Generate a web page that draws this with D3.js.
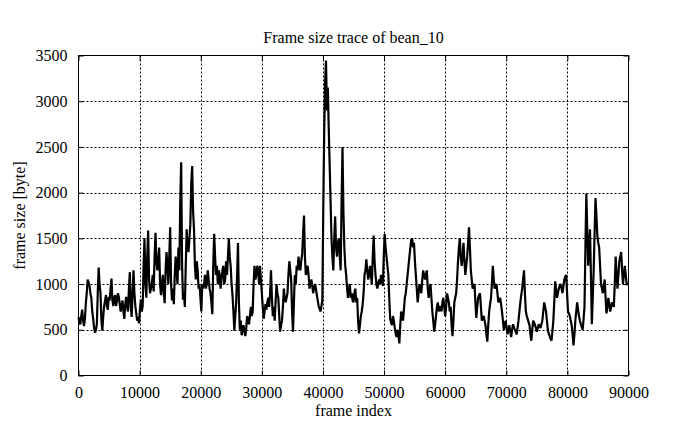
<!DOCTYPE html>
<html>
<head>
<meta charset="utf-8">
<script src="https://cdn.jsdelivr.net/npm/d3@7"></script>
<style>
html,body{margin:0;padding:0;background:#fff;}
svg{display:block;}
text{font-family:"Liberation Serif","Times New Roman",serif;fill:#000;}
</style>
</head>
<body>
<svg id="chart" width="695" height="429"></svg>
<script>
// ---- data ----
const titleText = "Frame size trace of bean_10";
const xLabel = "frame index";
const yLabel = "frame size [byte]";
const frameStep = 150; // frames between samples
const frameSizes = [
  640,580,560,650,720,600,540,620,790,900,1050,1020,980,900,850,700,620,520,470,500,
  560,900,1180,1000,900,600,490,650,760,820,880,760,720,860,820,950,1060,820,760,850,
  880,760,820,900,860,780,700,760,820,700,620,780,860,760,700,950,1130,760,640,900,
  1150,900,760,680,600,640,570,720,830,700,760,1200,1500,1000,850,1300,1585,1050,900,950,
  1000,1100,920,1300,1560,1250,1150,1250,1400,1000,880,1000,1100,900,790,1150,1350,1200,1000,1300,
  1620,1000,820,950,780,1100,1300,1150,1000,1400,1150,1900,2333,1200,830,900,750,1200,1600,1400,
  1350,1500,1650,2100,2290,1800,1600,1200,1050,1250,1150,950,1000,850,700,1000,950,1000,1100,950,
  1000,1150,1050,950,900,800,670,1200,1550,1300,1100,1200,1000,1150,1100,950,1050,1150,1200,1000,
  1050,1250,1100,1300,1500,1300,1200,1000,880,700,490,650,800,1100,1450,800,500,600,440,480,
  550,500,430,520,650,600,560,650,750,650,700,1000,1200,1050,1100,1200,1150,1000,1200,1050,
  900,750,620,700,780,720,800,850,750,900,1150,850,650,750,600,800,1000,900,850,650,
  480,550,600,750,950,850,800,850,900,1100,1250,1150,1050,700,480,800,1100,1000,1200,1150,
  1300,1200,1150,1250,1330,1550,1750,1300,1100,1150,1200,1100,950,1000,1050,980,900,950,1000,950,
  880,820,760,730,700,760,820,1800,2650,3200,3445,2900,3150,2700,2300,1900,1500,1300,1150,1500,
  1740,1400,1300,1450,1500,1300,1150,1900,2500,1800,1400,1200,1100,950,850,950,1000,850,900,820,
  800,900,950,800,850,600,460,550,650,700,780,900,1100,1150,1270,1150,1050,1100,1200,1100,
  1000,1300,1530,1250,1100,1000,950,1000,1050,1000,1100,1050,980,1300,1550,1400,1300,1200,1100,850,
  620,580,550,650,600,520,460,420,500,450,350,550,700,650,600,720,850,900,1000,1100,
  1200,1300,1400,1480,1500,1400,1450,1250,1100,950,800,900,1000,950,900,1050,1150,1100,1050,1100,
  1150,950,850,950,1000,850,700,600,480,550,650,750,800,700,750,750,700,800,850,750,
  650,750,900,850,800,700,750,550,430,600,800,850,900,1050,1250,1400,1500,1300,1200,1300,
  1450,1250,1100,1200,1300,1450,1620,1400,1150,1050,950,980,1000,800,630,750,850,880,900,750,
  600,630,650,600,550,450,370,550,700,780,850,1000,1200,1050,950,980,1000,900,800,820,
  850,780,700,600,500,550,600,520,450,500,550,480,420,500,560,530,500,480,450,520,
  600,700,800,880,950,1050,1150,900,700,650,620,580,550,450,380,500,600,580,550,520,
  480,520,560,540,520,560,600,700,800,750,700,600,500,460,430,400,380,480,600,800,
  1030,950,850,900,950,980,1000,950,900,980,1050,1080,1100,900,700,680,650,600,550,450,
  330,450,600,700,800,720,650,600,560,530,500,620,750,1400,1990,1600,1200,1400,1600,1100,
  560,850,1150,1550,1940,1750,1530,1450,1400,1200,1000,950,900,980,1050,850,680,760,850,780,
  700,750,800,780,750,1000,1300,1100,950,1100,1250,1300,1350,1150,1000,1100,1200,1100,1000,1000,
  1000
];
const xTicks = [0, 10000, 20000, 30000, 40000, 50000, 60000, 70000, 80000, 90000];
const yTicks = [0, 500, 1000, 1500, 2000, 2500, 3000, 3500];

// ---- layout ----
const svg = d3.select("#chart");
const L = 78.5, R = 628.5, T = 55.5, B = 375.5;
const x = d3.scaleLinear().domain([0, 90000]).range([L, R]);
const y = d3.scaleLinear().domain([0, 3500]).range([B, T]);

// grid
const grid = svg.append("g");
grid.selectAll(".gx").data(xTicks.slice(1, -1)).enter().append("line")
  .attr("x1", d => Math.round(x(d)) + 0.5).attr("x2", d => Math.round(x(d)) + 0.5)
  .attr("y1", T).attr("y2", B)
  .attr("stroke", "#000").attr("stroke-width", 1).attr("stroke-dasharray", "2,2");
grid.selectAll(".gy").data(yTicks.slice(1, -1)).enter().append("line")
  .attr("y1", d => Math.round(y(d)) + 0.5).attr("y2", d => Math.round(y(d)) + 0.5)
  .attr("x1", L).attr("x2", R)
  .attr("stroke", "#000").attr("stroke-width", 1).attr("stroke-dasharray", "2,2");

// axes (inward ticks, mirrored)
const fontSize = 16;
const axB = svg.append("g").attr("transform", `translate(0,${B})`)
  .call(d3.axisBottom(x).tickValues(xTicks).tickSize(-5).tickPadding(11).tickFormat(d3.format("d")));
const axT = svg.append("g").attr("transform", `translate(0,${T})`)
  .call(d3.axisTop(x).tickValues(xTicks).tickSize(-5).tickFormat(""));
const axL = svg.append("g").attr("transform", `translate(${L},0)`)
  .call(d3.axisLeft(y).tickValues(yTicks).tickSize(-5).tickPadding(11).tickFormat(d3.format("d")));
const axR = svg.append("g").attr("transform", `translate(${R},0)`)
  .call(d3.axisRight(y).tickValues(yTicks).tickSize(-5).tickFormat(""));
[axB, axT, axL, axR].forEach(a => {
  a.select(".domain").remove();
  a.selectAll("line").attr("stroke", "#000");
  a.selectAll("text").attr("font-family", "Liberation Serif, serif").attr("font-size", fontSize).attr("fill", "#000");
});

// frame
svg.append("rect").attr("x", L).attr("y", T).attr("width", R - L).attr("height", B - T)
  .attr("fill", "none").attr("stroke", "#000").attr("stroke-width", 1);

// trace
const line = d3.line().x((d, i) => x(i * frameStep)).y(d => y(d));
svg.append("path").datum(frameSizes)
  .attr("d", line).attr("fill", "none").attr("stroke", "#000")
  .attr("stroke-width", 2.2).attr("stroke-linejoin", "miter").attr("stroke-miterlimit", 2);

// texts
svg.append("text").attr("x", (L + R) / 2).attr("y", 43).attr("text-anchor", "middle")
  .attr("font-size", fontSize).text(titleText);
svg.append("text").attr("x", (L + R) / 2).attr("y", 416).attr("text-anchor", "middle")
  .attr("font-size", fontSize).text(xLabel);
svg.append("text").attr("transform", `translate(25,${(T + B) / 2}) rotate(-90)`)
  .attr("text-anchor", "middle").attr("font-size", fontSize).text(yLabel);
</script>
</body>
</html>
